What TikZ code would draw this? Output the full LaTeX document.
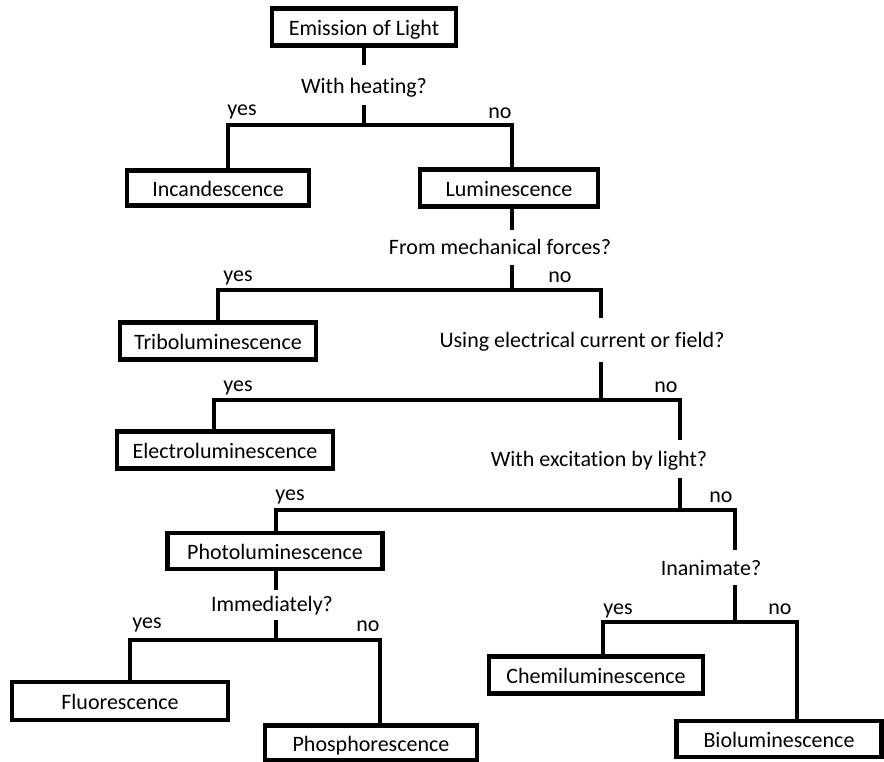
\documentclass[tikz,border=0pt]{standalone}
\usepackage{fontspec}
\setmainfont{Carlito}[Ligatures=NoCommon]
\begin{document}
\begin{tikzpicture}[x=1pt,y=-1pt,
  box/.style={draw, line width=4.2pt, rectangle, inner sep=0pt, font=\fontsize{22}{24}\selectfont, text height=18pt, text depth=2pt},
  ques/.style={inner sep=0pt, font=\fontsize{22}{24}\selectfont, text height=15pt, text depth=5pt},
  lbl/.style={inner sep=0pt, font=\fontsize{22}{24}\selectfont, text height=15pt, text depth=5pt},
  conn/.style={line width=3.3pt}]
\useasboundingbox (0,0) rectangle (884,761);
% boxes
\node[box, minimum width=184pt, minimum height=37pt] (emit) at (364,27) {Emission of Light};
\node[box, minimum width=182pt, minimum height=35pt] (inc) at (218,188) {Incandescence};
\node[box, minimum width=178pt, minimum height=37pt] (lum) at (509,188) {Luminescence};
\node[box, minimum width=196pt, minimum height=37pt] (tri) at (218,341) {Triboluminescence};
\node[box, minimum width=216pt, minimum height=37pt] (ele) at (225,450) {Electroluminescence};
\node[box, minimum width=215pt, minimum height=36pt] (pho) at (275,551) {Photoluminescence};
\node[box, minimum width=216pt, minimum height=38pt] (flu) at (120,701) {Fluorescence};
\node[box, minimum width=212pt, minimum height=35pt] (phos) at (371,743) {Phosphorescence};
\node[box, minimum width=214pt, minimum height=37pt] (chem) at (596,675) {Chemiluminescence};
\node[box, minimum width=205pt, minimum height=36pt] (bio) at (779,739) {Bioluminescence};
% questions
\node[ques] (q1) at (364,88) {With heating?};
\node[ques] (q2) at (500,249) {From mechanical forces?};
\node[ques] (q3) at (582,342) {Using electrical current or field?};
\node[ques] (q4) at (599,461) {With excitation by light?};
\node[ques] (q5) at (711,570) {Inanimate?};
\node[ques] (q6) at (272,606) {Immediately?};
% labels
\node[lbl] (y1) at (242,110) {yes};
\node[lbl] (n1) at (500,113) {no};
\node[lbl] (y2) at (238,276) {yes};
\node[lbl] (n2) at (560,277) {no};
\node[lbl] (y3) at (238,386) {yes};
\node[lbl] (n3) at (666,387) {no};
\node[lbl] (y4) at (290,495) {yes};
\node[lbl] (n4) at (721,497) {no};
\node[lbl] (y5) at (618,609) {yes};
\node[lbl] (n5) at (780,609) {no};
\node[lbl] (y6) at (147,623) {yes};
\node[lbl] (n6) at (368,626) {no};
% coordinates
\coordinate (a1) at (364,65);
\coordinate (b1) at (364,105);
\coordinate (j1) at (364,125);
\coordinate (a2) at (512,230);
\coordinate (b2) at (512,265);
\coordinate (j2) at (512,290);
\coordinate (a3) at (601,318);
\coordinate (b3) at (601,362);
\coordinate (j3) at (601,400);
\coordinate (a4) at (680,440);
\coordinate (b4) at (680,478);
\coordinate (j4) at (680,510);
\coordinate (a5) at (735,550);
\coordinate (b5) at (735,585);
\coordinate (j5) at (735,622);
\coordinate (a6) at (276,590);
\coordinate (b6) at (276,620);
\coordinate (j6) at (276,640);
% connectors
\draw[conn] (emit.south) -- (a1);
\draw[conn] (b1) -- (j1);
\draw[conn] ([xshift=10pt]inc.north) |- (j1) -| ([xshift=3pt]lum.north);
\draw[conn] ([xshift=3pt]lum.south) -- (a2);
\draw[conn] (b2) -- (j2);
\draw[conn] (tri.north) |- (j2) -| (a3);
\draw[conn] (b3) -- (j3);
\draw[conn] ([xshift=-11pt]ele.north) |- (j3) -| (a4);
\draw[conn] (b4) -- (j4);
\draw[conn] ([xshift=1pt]pho.north) |- (j4) -| (a5);
\draw[conn] (b5) -- (j5);
\draw[conn] ([xshift=7pt]chem.north) |- (j5) -| ([xshift=18pt]bio.north);
\draw[conn] ([xshift=1pt]pho.south) -- (a6);
\draw[conn] (b6) -- (j6);
\draw[conn] ([xshift=10pt]flu.north) |- (j6) -| ([xshift=9pt]phos.north);
\end{tikzpicture}
\end{document}
